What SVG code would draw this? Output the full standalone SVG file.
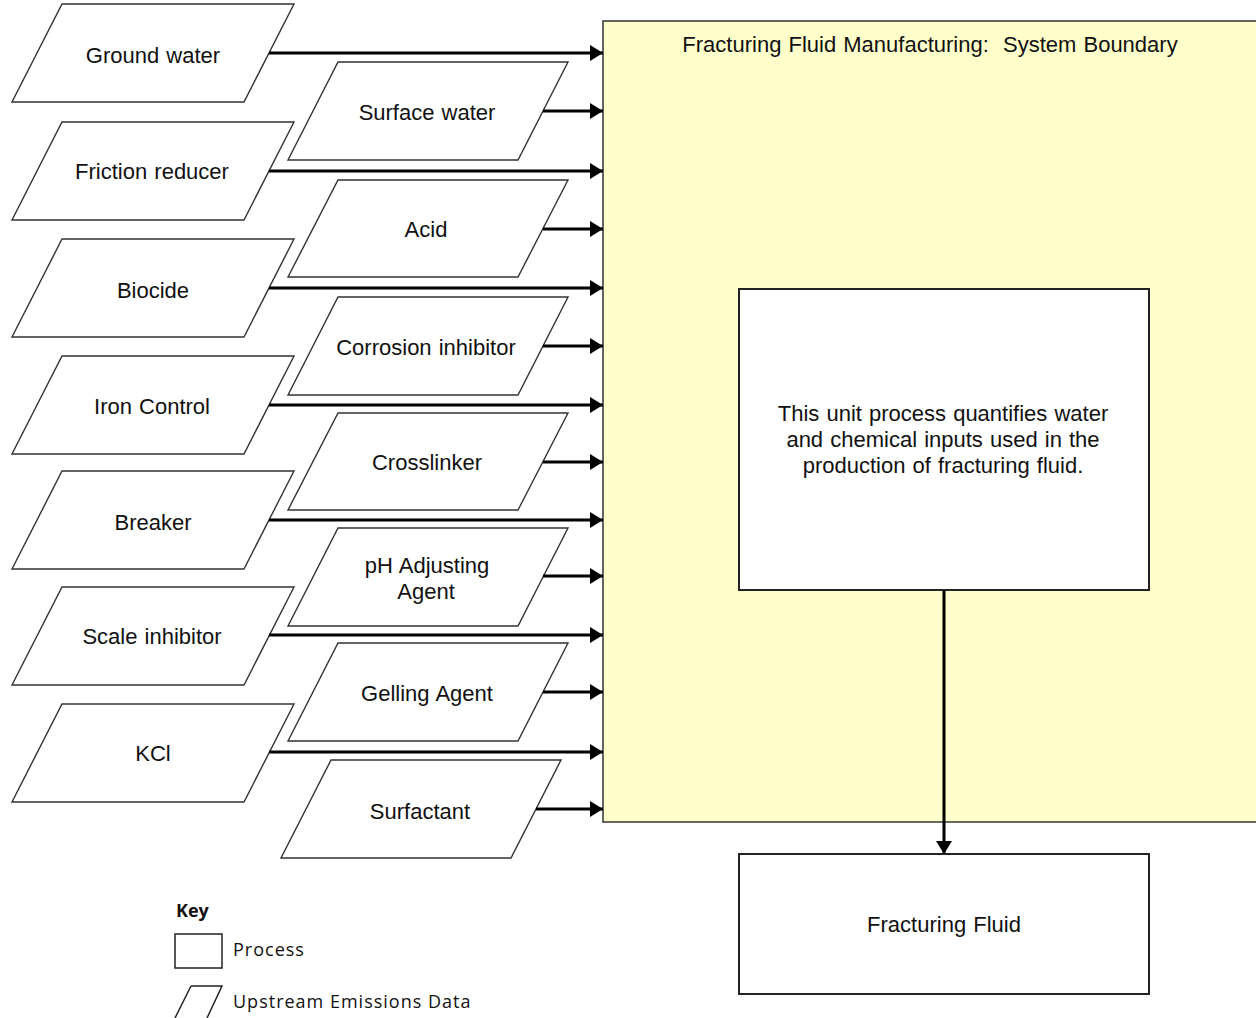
<svg xmlns="http://www.w3.org/2000/svg" width="1256" height="1018" viewBox="0 0 1256 1018">
<defs>
<marker id="ah" markerUnits="userSpaceOnUse" markerWidth="14" markerHeight="16" refX="13" refY="8" orient="auto">
<path d="M0,0 L13,8 L0,16 Z" fill="#000"/>
</marker>
<style>
.para{fill:#fff;stroke:#333;stroke-width:1.4}
.box{fill:#fff;stroke:#222;stroke-width:2}
.t{font-family:"Liberation Sans",Arial,sans-serif;font-size:22px;fill:#111;text-anchor:middle;word-spacing:1px}
.k{font-family:"Open Sans","Noto Sans",sans-serif;font-size:18px;letter-spacing:1px;fill:#111}
.c{stroke:#000;stroke-width:3;fill:none;marker-end:url(#ah)}
</style>
</defs>
<rect width="1256" height="1018" fill="#fff"/>
<g id="boundary">
<rect x="603" y="21" width="660" height="801" fill="#ffffcc" stroke="#333" stroke-width="1.5"/>
<text class="t" x="930" y="52" style="white-space:pre">Fracturing Fluid Manufacturing:  System Boundary</text>
</g>
<g id="unit-process">
<rect class="box" x="739" y="289" width="410" height="301"/>
<text class="t" x="943" y="421">This unit process quantifies water</text>
<text class="t" x="943" y="447">and chemical inputs used in the</text>
<text class="t" x="943" y="473">production of fracturing fluid.</text>
</g>
<g id="fracturing-fluid">
<rect class="box" x="739" y="854" width="410" height="140"/>
<text class="t" x="944" y="932">Fracturing Fluid</text>
</g>
<g id="ground-water"><path class="para" d="M62,4 L294,4 L244,102 L12,102 Z"/><text class="t" x="153" y="63">Ground water</text></g>
<g id="friction-reducer"><path class="para" d="M62,122 L294,122 L244,220 L12,220 Z"/><text class="t" x="152" y="179">Friction reducer</text></g>
<g id="biocide"><path class="para" d="M62,239 L294,239 L244,337 L12,337 Z"/><text class="t" x="153" y="298">Biocide</text></g>
<g id="iron-control"><path class="para" d="M62,356 L294,356 L244,454 L12,454 Z"/><text class="t" x="152" y="414">Iron Control</text></g>
<g id="breaker"><path class="para" d="M62,471 L294,471 L244,569 L12,569 Z"/><text class="t" x="153" y="530">Breaker</text></g>
<g id="scale-inhibitor"><path class="para" d="M62,587 L294,587 L244,685 L12,685 Z"/><text class="t" x="152" y="644">Scale inhibitor</text></g>
<g id="kcl"><path class="para" d="M62,704 L294,704 L244,802 L12,802 Z"/><text class="t" x="153" y="761">KCl</text></g>
<g id="surface-water"><path class="para" d="M338,62 L568,62 L518,160 L288,160 Z"/><text class="t" x="427" y="120">Surface water</text></g>
<g id="acid"><path class="para" d="M338,180 L568,180 L518,277 L288,277 Z"/><text class="t" x="426" y="237">Acid</text></g>
<g id="corrosion-inhibitor"><path class="para" d="M338,297 L568,297 L518,395 L288,395 Z"/><text class="t" x="426" y="355">Corrosion inhibitor</text></g>
<g id="crosslinker"><path class="para" d="M338,413 L568,413 L518,510 L288,510 Z"/><text class="t" x="427" y="470">Crosslinker</text></g>
<g id="ph-adjusting-agent"><path class="para" d="M338,528 L568,528 L518,626 L288,626 Z"/><text class="t" x="427" y="573">pH Adjusting</text><text class="t" x="426" y="599">Agent</text></g>
<g id="gelling-agent"><path class="para" d="M338,643 L568,643 L518,741 L288,741 Z"/><text class="t" x="427" y="701">Gelling Agent</text></g>
<g id="surfactant"><path class="para" d="M331,760 L561,760 L511,858 L281,858 Z"/><text class="t" x="420" y="819">Surfactant</text></g>
<g id="key">
<text x="176" y="917" style="font-family:'Open Sans','Noto Sans',sans-serif;font-size:18px;font-weight:bold;fill:#111">Key</text>
<rect x="175" y="934" width="47" height="34" fill="#fff" stroke="#222" stroke-width="1.5"/>
<text class="k" x="233" y="956">Process</text>
<path d="M191,986 L222,986 L207,1018 M175,1018 L191,986" fill="none" stroke="#222" stroke-width="1.5"/>
<text class="k" x="233" y="1008">Upstream Emissions Data</text>
</g>
<g id="connectors">
<line class="c" x1="269" y1="53" x2="603" y2="53"/>
<line class="c" x1="269" y1="171" x2="603" y2="171"/>
<line class="c" x1="269" y1="288" x2="603" y2="288"/>
<line class="c" x1="269" y1="405" x2="603" y2="405"/>
<line class="c" x1="269" y1="520" x2="603" y2="520"/>
<line class="c" x1="269" y1="635" x2="603" y2="635"/>
<line class="c" x1="269" y1="752" x2="603" y2="752"/>
<line class="c" x1="543" y1="111" x2="603" y2="111"/>
<line class="c" x1="543" y1="229" x2="603" y2="229"/>
<line class="c" x1="543" y1="346" x2="603" y2="346"/>
<line class="c" x1="543" y1="462" x2="603" y2="462"/>
<line class="c" x1="543" y1="576" x2="603" y2="576"/>
<line class="c" x1="543" y1="692" x2="603" y2="692"/>
<line class="c" x1="536" y1="809" x2="603" y2="809"/>
<line class="c" x1="944" y1="590" x2="944" y2="854"/>
</g>
</svg>
